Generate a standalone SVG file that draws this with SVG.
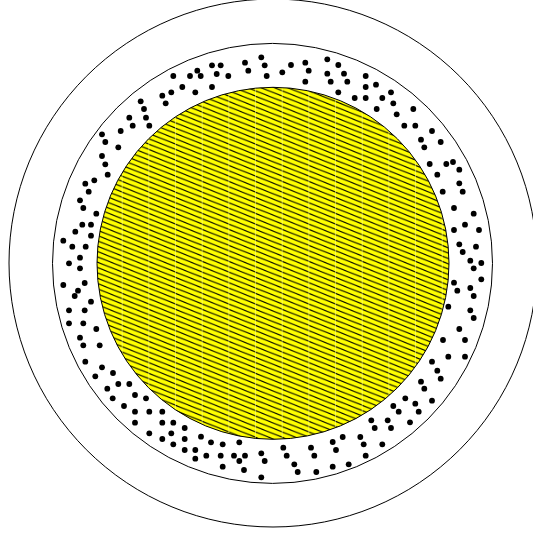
<svg xmlns="http://www.w3.org/2000/svg" width="533" height="533" viewBox="0 0 533 533">
<style>
.ring{fill:none;stroke:#000;stroke-width:1}
.d{fill:#000}
.d circle{r:2.9px}
</style>
<defs>
<pattern id="hatch" patternUnits="userSpaceOnUse" x="15" y="0" width="26.67" height="5.33">
<rect width="26.67" height="5.33" fill="#ffff00"/>
<g stroke="#000" stroke-width="1.05">
<line x1="0" y1="-10.66" x2="26.67" y2="0"/>
<line x1="0" y1="-5.33" x2="26.67" y2="5.33"/>
<line x1="0" y1="0" x2="26.67" y2="10.66"/>
<line x1="0" y1="5.33" x2="26.67" y2="16"/>
</g>
<line x1="0.3" y1="0" x2="0.3" y2="5.33" stroke="#ffff99" stroke-width="0.6"/>
</pattern>
</defs>
<g id="outer"><circle class="ring" cx="273" cy="263" r="264"/></g>
<g id="middle"><circle class="ring" cx="272.5" cy="263.4" r="220"/></g>
<g id="core"><circle cx="273" cy="263.3" r="176" fill="url(#hatch)" stroke="#000" stroke-width="1"/></g>
<g id="dots" class="d">
<circle cx="261.3" cy="57.3" r="2.9"/><circle cx="264.7" cy="65.3" r="2.9"/><circle cx="245" cy="62.7" r="2.9"/><circle cx="248.3" cy="70.7" r="2.9"/><circle cx="266.7" cy="76" r="2.9"/><circle cx="212" cy="65.3" r="2.9"/><circle cx="220.7" cy="65.3" r="2.9"/><circle cx="216.7" cy="74" r="2.9"/><circle cx="228.3" cy="76" r="2.9"/><circle cx="197.3" cy="70.7" r="2.9"/><circle cx="200.7" cy="76" r="2.9"/><circle cx="190" cy="76" r="2.9"/><circle cx="173.3" cy="76" r="2.9"/><circle cx="212" cy="87" r="2.9"/><circle cx="195.3" cy="92.3" r="2.9"/><circle cx="182.3" cy="87" r="2.9"/><circle cx="171.3" cy="92.3" r="2.9"/><circle cx="162.3" cy="95.7" r="2.9"/><circle cx="165.7" cy="103.3" r="2.9"/><circle cx="140.7" cy="101.3" r="2.9"/><circle cx="144" cy="109" r="2.9"/><circle cx="146" cy="117.7" r="2.9"/><circle cx="149.3" cy="125.7" r="2.9"/><circle cx="129.3" cy="117.7" r="2.9"/><circle cx="132.7" cy="125.7" r="2.9"/><circle cx="120.7" cy="131" r="2.9"/><circle cx="102" cy="134.3" r="2.9"/><circle cx="105.3" cy="142" r="2.9"/><circle cx="118.3" cy="147.3" r="2.9"/>
<circle cx="291" cy="65" r="2.9"/><circle cx="282.3" cy="72.3" r="2.9"/><circle cx="305.3" cy="62.7" r="2.9"/><circle cx="308.7" cy="70.7" r="2.9"/><circle cx="305.3" cy="81.7" r="2.9"/><circle cx="327.3" cy="59.3" r="2.9"/><circle cx="338.3" cy="65" r="2.9"/><circle cx="327.3" cy="73.7" r="2.9"/><circle cx="344" cy="73.7" r="2.9"/><circle cx="330.7" cy="81.7" r="2.9"/><circle cx="347.3" cy="81.7" r="2.9"/><circle cx="338.3" cy="92.3" r="2.9"/><circle cx="365.7" cy="76" r="2.9"/><circle cx="365.7" cy="87" r="2.9"/><circle cx="376" cy="84.7" r="2.9"/><circle cx="365.7" cy="98" r="2.9"/><circle cx="354.7" cy="98" r="2.9"/><circle cx="382.3" cy="98" r="2.9"/><circle cx="391" cy="92.3" r="2.9"/><circle cx="393.3" cy="103.3" r="2.9"/><circle cx="376.7" cy="109" r="2.9"/><circle cx="396.7" cy="114.3" r="2.9"/><circle cx="413.3" cy="109" r="2.9"/><circle cx="404.3" cy="125.7" r="2.9"/><circle cx="415.3" cy="125.7" r="2.9"/><circle cx="432" cy="131" r="2.9"/><circle cx="421" cy="139.7" r="2.9"/><circle cx="424.3" cy="147.3" r="2.9"/><circle cx="440.7" cy="142" r="2.9"/>
<circle cx="102" cy="156" r="2.9"/><circle cx="105.3" cy="164.3" r="2.9"/><circle cx="107.7" cy="174.7" r="2.9"/><circle cx="94.3" cy="180.3" r="2.9"/><circle cx="85.3" cy="183.7" r="2.9"/><circle cx="88.7" cy="191.7" r="2.9"/><circle cx="80" cy="200.3" r="2.9"/><circle cx="83.3" cy="208" r="2.9"/><circle cx="96.3" cy="213.7" r="2.9"/><circle cx="82.3" cy="224.7" r="2.9"/><circle cx="91" cy="224.7" r="2.9"/><circle cx="75.3" cy="231.7" r="2.9"/><circle cx="91" cy="235.7" r="2.9"/><circle cx="63.3" cy="240.7" r="2.9"/><circle cx="72.3" cy="246.7" r="2.9"/><circle cx="85.7" cy="246.7" r="2.9"/><circle cx="80" cy="257.7" r="2.9"/><circle cx="69" cy="263.3" r="2.9"/><circle cx="80" cy="268.3" r="2.9"/><circle cx="63.3" cy="285" r="2.9"/><circle cx="84.7" cy="283" r="2.9"/><circle cx="78" cy="290.7" r="2.9"/><circle cx="74.7" cy="296" r="2.9"/><circle cx="91" cy="301.7" r="2.9"/><circle cx="69" cy="310.3" r="2.9"/><circle cx="84.7" cy="310.3" r="2.9"/><circle cx="69" cy="323.3" r="2.9"/><circle cx="83.3" cy="323.3" r="2.9"/><circle cx="96.3" cy="329" r="2.9"/><circle cx="80" cy="337.7" r="2.9"/><circle cx="83.3" cy="345.3" r="2.9"/><circle cx="99.7" cy="345.3" r="2.9"/><circle cx="85.3" cy="361.7" r="2.9"/><circle cx="102" cy="367.3" r="2.9"/><circle cx="95.3" cy="376.3" r="2.9"/><circle cx="113" cy="373" r="2.9"/><circle cx="118.3" cy="384" r="2.9"/><circle cx="129.3" cy="384" r="2.9"/><circle cx="107.3" cy="388.7" r="2.9"/>
<circle cx="429.7" cy="164" r="2.9"/><circle cx="446.3" cy="164" r="2.9"/><circle cx="453" cy="162" r="2.9"/><circle cx="459.3" cy="169.7" r="2.9"/><circle cx="437.3" cy="174.7" r="2.9"/><circle cx="459.3" cy="183.3" r="2.9"/><circle cx="462.7" cy="191.7" r="2.9"/><circle cx="442.7" cy="191.7" r="2.9"/><circle cx="454" cy="208" r="2.9"/><circle cx="473.7" cy="213.7" r="2.9"/><circle cx="465" cy="224.7" r="2.9"/><circle cx="479" cy="230" r="2.9"/><circle cx="454" cy="230" r="2.9"/><circle cx="459.3" cy="244.3" r="2.9"/><circle cx="476" cy="246.7" r="2.9"/><circle cx="462.7" cy="252" r="2.9"/><circle cx="470.3" cy="260.7" r="2.9"/><circle cx="481.3" cy="263" r="2.9"/><circle cx="473.7" cy="268.3" r="2.9"/><circle cx="481.3" cy="279.3" r="2.9"/><circle cx="454" cy="282.7" r="2.9"/><circle cx="457.3" cy="290.7" r="2.9"/><circle cx="470.3" cy="288" r="2.9"/><circle cx="473.7" cy="296" r="2.9"/><circle cx="448.3" cy="306.7" r="2.9"/><circle cx="470.3" cy="310.3" r="2.9"/><circle cx="473.7" cy="318" r="2.9"/><circle cx="459.3" cy="329" r="2.9"/><circle cx="443" cy="340" r="2.9"/><circle cx="465" cy="340" r="2.9"/><circle cx="448.3" cy="356.7" r="2.9"/><circle cx="465" cy="356.7" r="2.9"/><circle cx="432" cy="361.7" r="2.9"/><circle cx="437.3" cy="370.7" r="2.9"/><circle cx="440.7" cy="378.7" r="2.9"/><circle cx="421" cy="381.7" r="2.9"/><circle cx="424.3" cy="388.7" r="2.9"/>
<circle cx="112.7" cy="398.3" r="2.9"/><circle cx="135" cy="395" r="2.9"/><circle cx="146" cy="398.3" r="2.9"/><circle cx="124" cy="406" r="2.9"/><circle cx="135" cy="411.7" r="2.9"/><circle cx="149.3" cy="411.7" r="2.9"/><circle cx="162.3" cy="411.7" r="2.9"/><circle cx="135" cy="422.7" r="2.9"/><circle cx="162.3" cy="422.7" r="2.9"/><circle cx="173.3" cy="422.7" r="2.9"/><circle cx="184.7" cy="428" r="2.9"/><circle cx="149.3" cy="433.3" r="2.9"/><circle cx="171.3" cy="433.3" r="2.9"/><circle cx="162.3" cy="439" r="2.9"/><circle cx="173.3" cy="444.3" r="2.9"/><circle cx="184.7" cy="439" r="2.9"/><circle cx="201" cy="436.7" r="2.9"/><circle cx="211" cy="442.3" r="2.9"/><circle cx="222.7" cy="444.3" r="2.9"/><circle cx="239.3" cy="442.3" r="2.9"/><circle cx="184.7" cy="450" r="2.9"/><circle cx="195.3" cy="450" r="2.9"/><circle cx="206.3" cy="455.7" r="2.9"/><circle cx="195.3" cy="458.7" r="2.9"/><circle cx="220.7" cy="455.7" r="2.9"/><circle cx="234" cy="455.7" r="2.9"/><circle cx="245" cy="455.7" r="2.9"/><circle cx="239.3" cy="461" r="2.9"/><circle cx="261.3" cy="453.3" r="2.9"/><circle cx="264.7" cy="461" r="2.9"/><circle cx="222.7" cy="466.7" r="2.9"/><circle cx="244" cy="470" r="2.9"/><circle cx="261.3" cy="477.3" r="2.9"/>
<circle cx="405.3" cy="398.3" r="2.9"/><circle cx="432" cy="400.7" r="2.9"/><circle cx="415.3" cy="403.7" r="2.9"/><circle cx="418.7" cy="411.7" r="2.9"/><circle cx="393.3" cy="406" r="2.9"/><circle cx="398.7" cy="411.7" r="2.9"/><circle cx="371.3" cy="420.3" r="2.9"/><circle cx="387.7" cy="420.3" r="2.9"/><circle cx="410" cy="422.3" r="2.9"/><circle cx="374.7" cy="428" r="2.9"/><circle cx="391" cy="428" r="2.9"/><circle cx="342.7" cy="437" r="2.9"/><circle cx="360.3" cy="437" r="2.9"/><circle cx="332.7" cy="442" r="2.9"/><circle cx="363.7" cy="444.3" r="2.9"/><circle cx="382.3" cy="444.3" r="2.9"/><circle cx="336" cy="450" r="2.9"/><circle cx="311" cy="447.7" r="2.9"/><circle cx="314.3" cy="455.7" r="2.9"/><circle cx="283.3" cy="447.7" r="2.9"/><circle cx="286.7" cy="455.7" r="2.9"/><circle cx="365.7" cy="455.7" r="2.9"/><circle cx="294.3" cy="464.3" r="2.9"/><circle cx="348.7" cy="464.3" r="2.9"/><circle cx="332.7" cy="466.7" r="2.9"/><circle cx="297.7" cy="472" r="2.9"/><circle cx="316.3" cy="472" r="2.9"/>
</g>
</svg>
